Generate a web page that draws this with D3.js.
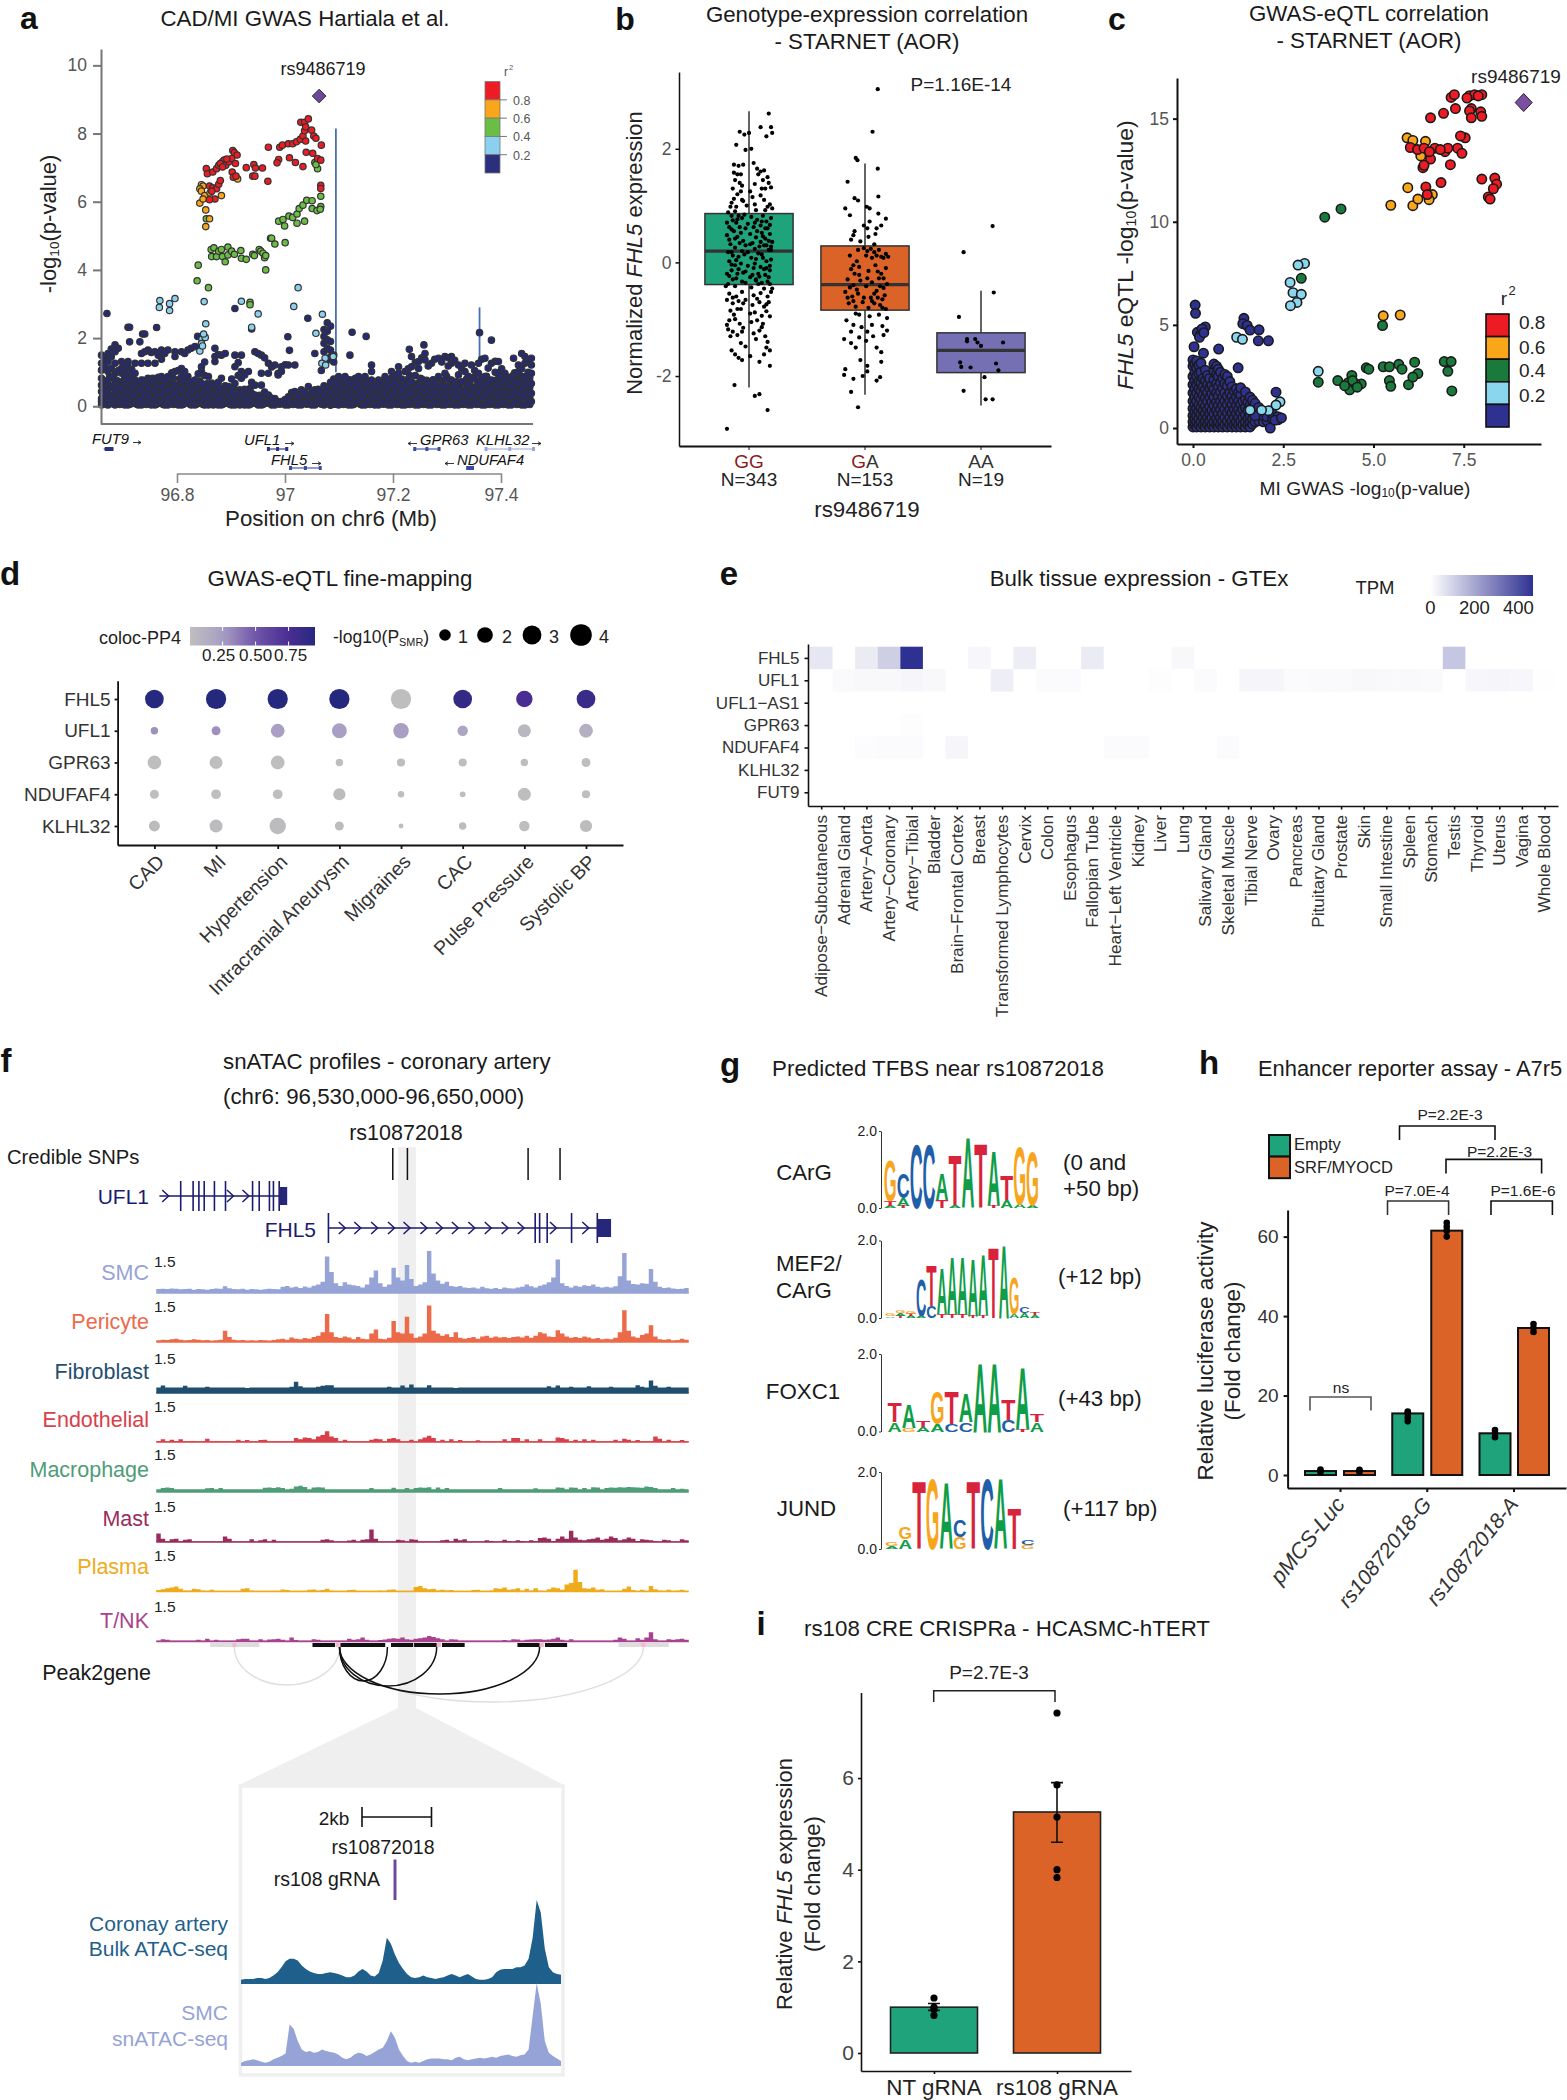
<!DOCTYPE html>
<html><head><meta charset="utf-8">
<script src="https://d3js.org/d3.v7.min.js"></script>
<style>html,body{margin:0;background:#fff}svg{display:block;font-family:"Liberation Sans",Arial,sans-serif}</style>
</head><body><svg id="c" width="1567" height="2100"></svg>
<script>
// ---------- panel a data ----------
const aRed=[[96.854,6.97],[96.856,6.82],[96.866,6.87],[96.873,6.97],[96.877,7.07],[96.884,7.17],[96.887,7.22],[96.88,7.12],[96.89,7.07],[96.896,7.17],[96.903,7.5],[96.906,7.44],[96.911,7.37],[96.901,7.27],[96.908,7.12],[96.902,6.87],[96.904,6.72],[96.909,6.75],[96.884,7.02],[96.892,7.25],[96.928,7],[96.942,7.09],[96.945,6.99],[96.958,6.99],[96.94,6.75],[96.944,6.75],[96.968,6.6],[96.969,7.6],[96.99,7.6],[96.995,7.66],[97.006,7.7],[97.014,7.7],[97.021,7.76],[97.028,7.83],[97.033,7.93],[97.036,8.08],[97.029,8.33],[97.036,8.33],[97.043,8.43],[97.038,8.2],[97.049,8.1],[97.053,7.93],[97.057,7.86],[97.038,7.78],[97.067,7.66],[97.039,7.45],[97.051,7.42],[97.06,7.27],[97.066,7.22],[96.988,7.24],[96.985,7.14],[97.008,7.29],[97.019,7.15],[97.033,7.03],[97.066,6.48],[97.066,6.39],[96.86,6.46],[96.866,6.41],[96.873,6.38],[96.877,6.51],[96.88,6.62],[96.864,6.31],[96.87,6.08],[96.86,6.06]];
const aOrange=[[96.845,6.5],[96.848,6.46],[96.842,6.38],[96.845,6.31],[96.851,6.18],[96.842,5.96],[96.848,6.08],[96.882,6.18],[96.861,6.26],[96.853,5.76],[96.86,5.5],[96.853,5.27],[96.912,6.67]];
const aGreen=[[96.854,5.5],[96.839,4.14],[96.837,3.68],[96.858,3.48],[96.863,4.6],[96.864,4.39],[96.868,4.65],[96.873,4.39],[96.877,4.55],[96.882,4.6],[96.884,4.39],[96.889,4.24],[96.894,4.67],[96.894,4.44],[96.901,4.55],[96.906,4.46],[96.918,4.57],[96.919,4.34],[96.928,4.31],[96.94,4.46],[96.943,4.42],[96.952,4.6],[96.955,4.55],[96.959,4.49],[96.962,4.36],[96.964,4.42],[96.964,4],[96.973,4.93],[96.975,4.93],[96.981,4.76],[97,4.8],[96.988,5.43],[96.996,5.48],[96.999,5.29],[97.007,5.58],[97.014,5.54],[97.022,5.64],[97.022,5.37],[97.026,5.8],[97.033,5.9],[97.036,5.43],[97.04,6.04],[97.05,6.03],[97.05,5.8],[97.059,5.74],[97.066,5.86],[97.066,6.16],[97.065,5.78],[97.055,7.15],[97.06,6.97],[97.057,7.09],[96.935,3.05],[96.935,2.98]];
const aBlue=[[96.768,3.1],[96.767,2.9],[96.786,3.01],[96.786,2.81],[96.796,3.16],[96.85,3.07],[96.919,3.08],[96.95,2.71],[96.938,2.32],[97.016,2.93],[97.024,3.48],[97.069,2.7],[96.853,2.42],[97.057,2.14],[96.846,1.97],[96.852,2.02],[96.849,2.12],[96.845,1.84],[96.842,1.62],[96.847,1.77],[97.074,1.41],[97.068,1.26],[97.075,1.21],[97.089,1.46]];
const aNavyTop=[[96.67,2.72],[96.709,2.32],[96.712,2.32],[96.712,1.89],[96.731,1.89],[96.736,2.12],[96.74,2.12],[96.762,2.31],[96.838,2.05],[96.907,2.87],[96.938,2.27],[97.005,2.04],[97.008,1.64],[97.042,2.58],[97.124,2.17],[97.15,2.05],[97.12,1.5],[97.23,1.67],[97.257,1.8],[97.36,2.16],[97.382,1.94],[97.423,1.41]];
const aNavyColumns=[[96.66,[.04,.14,.23,.43,.62,.82,1.06,1.26,1.5]],[96.666,[.1,.3,.5,.72,1.15,1.4]],[96.672,[.04,.18,.38,.77,1.02,1.31,1.55]],[96.678,[.1,.28,.55,1.12,1.45,1.68]],[96.685,[.04,.23,.48,.67,.97,1.26,1.6,1.8]],[96.691,[.12,.34,.62,1.05,1.7]],[96.697,[.09,.28,.53,.97,1.11,1.31]],[96.703,[.04,.16,.4,.85,1.2]],[96.709,[.04,.23,.43,.77,1.02,1.16,1.31]],[96.716,[.12,.3,.55,.9,1.08]],[96.722,[.09,.33,.62,.77,.97,1.26]],[96.728,[.04,.16,.45,.7]],[96.734,[.04,.23,.48,.77,1.26,1.55]],[96.74,[.12,.35,.62,1.6]],[96.746,[.09,.28,.53,.82,1.26,1.65]],[96.752,[.04,.16,.4,.72,1.58]],[96.759,[.04,.23,.43,.77,1.26,1.6]],[96.765,[.12,.32,.6,.85,1.5]],[96.771,[.09,.33,.58,.87,1.38,1.65]],[96.777,[.04,.18,.45,.75,1.55]],[96.783,[.04,.23,.48,.87,1.65]],[96.79,[.12,.3,.68,.98]],[96.796,[.14,.38,.62,1.02,1.6,1.46]],[96.802,[.04,.24,.55,1.05]],[96.808,[.04,.23,.48,.87,1.11,1.6]],[96.814,[.12,.35,.72,1.02,1.55]],[96.82,[.09,.33,.62,.87,1.65]],[96.826,[.04,.18,.48,.72,1.7]],[96.833,[.04,.23,.53,.77,1.75]],[96.839,[.12,.32,.62,.95]],[96.845,[.14,.38,.67,1.16,1.02,1.8]],[96.851,[.04,.24,.48,.9,1.3]],[96.858,[.04,.23,.53,.87]],[96.864,[.12,.36,.68]],[96.87,[.09,.33,.62,1.31,1.46,1.7]],[96.876,[.04,.2,.45,.7,1.52]],[96.882,[.04,.23,.53,.82,1.5]],[96.889,[.12,.36,.6,1.55]],[96.895,[.14,.33,.58]],[96.901,[.04,.2,.45,.8]],[96.907,[.04,.28,.67,1.16,1.5]],[96.913,[.12,.4,.9,1.28]],[96.919,[.09,.33,1.02,.82,1.5]],[96.925,[.04,.2,.5,.92]],[96.932,[.04,.23,.48,1.02]],[96.938,[.14,.38,.7]],[96.944,[.09,.33,.62,1.6]],[96.95,[.04,.2,1.55]],[96.956,[.04,.23,.62,.97,1.5]],[96.962,[.14,.42,1.42]],[96.969,[.14,.33,.97,1.26]],[96.975,[.04,.2,1.15]],[96.981,[.04,.23,1.21]],[96.987,[.14,.97,.92]],[96.993,[.14,1.02,1.16]],[97,[.04,.2,1.22]],[97.006,[.04,.28,1.21]],[97.012,[.14,.4]],[97.018,[.14,.43,1.21]],[97.024,[.04,.3]],[97.03,[.04,.48]],[97.036,[.14,.42]],[97.043,[.14,.58]],[97.049,[.04,.4]],[97.055,[.04,.48,1.55]],[97.061,[.14,.34,.5]],[97.067,[.06,.2,.42,1.05]],[97.072,[.04,.14,.32,.6,1.6,1.85,2.05,2.25]],[97.078,[.08,.22,.5,1.35,1.7,1.95,2.2,2.45]],[97.084,[.03,.18,.4,.7,1.45,1.65,1.9,2.35]],[97.09,[.06,.25,.55,.8,1.3,1.5]],[97.094,[.14,.4,.7]],[97.099,[.04,.23,.43,.62,.87]],[97.105,[.14,.32,.52,.8]],[97.111,[.09,.33,.53,.72,.87]],[97.117,[.04,.2,.42,.62]],[97.123,[.04,.23,.43,.67]],[97.13,[.14,.34,.55,.82]],[97.136,[.14,.38,.67,.87]],[97.142,[.04,.24,.5]],[97.148,[.04,.38,.62,.87]],[97.154,[.16,.42,.7]],[97.16,[.14,.33,.77,1.02,1.21]],[97.166,[.04,.24,.62]],[97.173,[.04,.23,.77]],[97.179,[.14,.42,.7]],[97.185,[.14,.38,.62,.87]],[97.191,[.04,.24,.5,.75]],[97.197,[.04,.28,.58,.82,1.02]],[97.203,[.14,.4,.7,.92]],[97.21,[.14,.62,.97,1.16]],[97.216,[.04,.24,.45,.8]],[97.222,[.04,.28,.62,1.02]],[97.228,[.14,.42,.8,1.1]],[97.234,[.14,.38,.72,1.16,1.46]],[97.241,[.04,.24,.55,.9,1.28]],[97.247,[.04,.23,.58,1.11,1.31]],[97.253,[.14,.42,.8,1.42]],[97.259,[.14,.38,.58,1.36,1.55]],[97.265,[.04,.24,.48,.7,1.18]],[97.271,[.04,.28,.53,1.26]],[97.277,[.14,.4,.68,1.38]],[97.284,[.14,.53,.87,1.41]],[97.29,[.04,.28,.62,1.3]],[97.296,[.04,.28,.58,.97,1.46]],[97.302,[.14,.42,.8,1.18,1.42]],[97.308,[.14,.43,.77,1.26,1.46]],[97.314,[.04,.26,.6,1.35]],[97.321,[.04,.28,.58,.92,1.21]],[97.327,[.14,.44,.72,1.1]],[97.333,[.14,.43,1.02,1.26]],[97.339,[.04,.28,.62,.88]],[97.345,[.04,.33,1.21]],[97.351,[.14,.5,.8,1.05]],[97.358,[.14,.43,.67,.97,1.26]],[97.364,[.04,.26,.55,.8,1.38]],[97.37,[.04,.33,.62,.87,1.41]],[97.376,[.14,.45,.72,1.12]],[97.382,[.14,.43,.77,1.26]],[97.389,[.04,.28,.58,1.0,1.32]],[97.395,[.04,.28,.62,.97,1.31]],[97.401,[.14,.42,.7,1.1]],[97.407,[.14,.38,.77,.97]],[97.413,[.04,.26,.55,.85]],[97.419,[.04,.28,.58,.82]],[97.425,[.14,.42,.7,.98]],[97.432,[.14,.38,.67,1.02,1.21]],[97.438,[.04,.26,.52,.85,1.1,1.55]],[97.444,[.04,.28,.62,.87,1.46,1.26]],[97.45,[.14,.42,.72,1.0,1.3]],[97.456,[.14,.38,.67,.97,1.21,1.41]]];
const aNavyFill=[[96.663,[.09,.33,.56,.74]],[96.669,[.05,.26,.44,.66]],[96.675,[.12,.3,.6,.86]],[96.682,[.07,.33,.58,.82]],[96.688,[.1,.28,.52,.76]],[96.694,[.05,.2,.44,.7]],[96.7,[.12,.36,.62,.74]],[96.706,[.08,.28,.55,.66]],[96.713,[.06,.36,.6,.78]],[96.719,[.1,.2,.44,.68]],[96.725,[.06,.26,.54]],[96.731,[.12,.34,.6,.66]],[96.737,[.08,.3,.52,.76]],[96.743,[.05,.22,.46,.72]],[96.749,[.12,.38,.64]],[96.755,[.08,.28,.56,.82]],[96.762,[.06,.34,.52,.68]],[96.768,[.1,.22,.46,.74]],[96.774,[.05,.27,.64,.8]],[96.78,[.12,.34,.58]],[96.786,[.08,.32,.55,.76]],[96.793,[.05,.2,.48,.82]],[96.799,[.11,.3,.62]],[96.805,[.07,.36,.66,.8]],[96.811,[.05,.18,.4,.58]],[96.817,[.12,.28,.55,.78]],[96.823,[.07,.22,.44,.7]],[96.83,[.11,.34,.6]],[96.836,[.06,.27,.47]],[96.842,[.09,.2,.45,.74]],[96.848,[.05,.3,.56]],[96.855,[.11,.33,.66]],[96.861,[.07,.24,.46]],[96.867,[.04,.2,.42]],[96.873,[.13,.26,.52]],[96.879,[.09,.33]],[96.885,[.06,.15,.42]],[96.892,[.09,.26,.48]],[96.898,[.05,.24]],[96.904,[.11,.33,.55]],[96.91,[.07,.2]],[96.916,[.04,.24,.48]],[96.922,[.12,.3]],[96.928,[.09,.35]],[96.935,[.05,.26,.52]],[96.941,[.09,.22]],[96.947,[.12,.3]],[96.953,[.08,.32]],[96.959,[.05,.2]],[96.965,[.09,.28]],[96.972,[.09,.26]],[96.978,[.12]],[96.984,[.09]],[96.99,[.06]],[96.997,[.1]],[97.003,[.12]],[97.009,[.08,.2]],[97.015,[.05,.28]],[97.021,[.1,.22]],[97.027,[.14]],[97.033,[.12,.3]],[97.04,[.06,.3]],[97.046,[.1,.26]],[97.052,[.13,.32]],[97.058,[.08,.3]],[97.064,[.1,.28]],[97.07,[.2,.46]],[97.076,[.13,.36]],[97.081,[.08,.3,.58]],[97.087,[.12,.3]],[97.092,[.06,.3]],[97.096,[.1,.33,.5]],[97.102,[.08,.28,.62]],[97.108,[.05,.22,.42,.7]],[97.114,[.12,.26,.46]],[97.12,[.08,.32,.56,.78]],[97.127,[.05,.2,.44,.7]],[97.133,[.09,.28,.6]],[97.139,[.06,.2,.46,.76]],[97.145,[.12,.3,.56]],[97.151,[.09,.26,.5,.74]],[97.157,[.05,.24,.56]],[97.163,[.09,.22,.46,.66]],[97.17,[.13,.34,.5]],[97.176,[.09,.3,.56]],[97.182,[.06,.26,.5,.76]],[97.188,[.09,.22,.5]],[97.194,[.13,.34,.62]],[97.2,[.09,.2,.45,.72]],[97.207,[.05,.28,.5,.8]],[97.213,[.09,.33,.56]],[97.219,[.13,.34,.68]],[97.225,[.09,.2,.5]],[97.231,[.05,.28,.58,.9]],[97.238,[.09,.3,.46]],[97.244,[.13,.34,.66]],[97.25,[.09,.3,.5,.82]],[97.256,[.05,.24,.62]],[97.262,[.09,.3,.76]],[97.268,[.13,.36,.62]],[97.274,[.09,.2,.44,.78]],[97.281,[.05,.3,.7]],[97.287,[.09,.34,.62]],[97.293,[.13,.44,.76]],[97.299,[.09,.2,.52,.88]],[97.305,[.05,.3,.64]],[97.311,[.09,.34,.7]],[97.318,[.13,.44,.72]],[97.324,[.09,.28,.56]],[97.33,[.05,.34,.7]],[97.336,[.09,.2,.5,.8]],[97.342,[.13,.4,.72]],[97.348,[.09,.26,.56,.84]],[97.355,[.05,.32,.6]],[97.361,[.09,.34,.74]],[97.367,[.13,.44,.7]],[97.373,[.09,.28,.55,.88]],[97.379,[.05,.32,.6]],[97.386,[.09,.36,.72]],[97.392,[.13,.44,.78]],[97.398,[.09,.34,.55,.86]],[97.404,[.05,.28,.62]],[97.41,[.09,.3,.48,.7]],[97.416,[.13,.4,.66]],[97.422,[.09,.34,.52,.9]],[97.429,[.05,.26,.5,.78]],[97.435,[.09,.3,.6,.9]],[97.441,[.13,.44,.74]],[97.447,[.09,.3,.52,.8]],[97.453,[.05,.26,.55,.84]]];
const aGenes=[["FUT9",96.664,96.682,1,0,"#2b2f7e"],["UFL1",96.969,97.003,1,0,"#2b2f7e"],["FHL5",97.01,97.065,1,1,"#3b4a9e"],["GPR63",97.24,97.285,-1,0,"#3b4a9e"],["KLHL32",97.372,97.46,1,0,"#9aa3d6"],["NDUFAF4",97.338,97.347,-1,1,"#3b4a9e"]];
const aLeadSnp=[97.063,9.1];
const aRecomb=[[97.094,8.15,1.0],[97.36,2.9,1.3]];
const ldBreaks=["0.8","0.6","0.4","0.2"];
// ---------- panel b data ----------
const bCats=["GG","GA","AA"];
const bCounts=["N=343","N=153","N=19"];
const bBoxes=[{lo:-2.2,q1:-.39,med:.2,q3:.86,hi:2.66},{lo:-2.33,q1:-.84,med:-.39,q3:.29,hi:1.74},{lo:-2.52,q1:-1.94,med:-1.55,q3:-1.24,hi:-.5}];
const bColors=["#1fa37a","#dc6327","#7570b3"];
const bGG=[.17,2.62,.1,2.38,.19,2.38,.2,2.28,.15,2.22,-.08,2.3,0,2.28,-.04,2.25,-.03,1.98,-.11,2.07,.02,2,-.13,1.58,-.1,1.55,-.05,1.72,-.09,1.7,.04,1.75,.07,1.65,.1,1.6,.08,1.55,-.12,1.45,-.08,1.4,-.14,1.3,-.06,1.35,.12,1.45,.16,1.5,.17,1.4,.14,1.3,.19,1.32,.05,1.38,-.15,1.05,-.13,1.12,-.1,1.2,-.07,1.25,-.05,1.08,-.02,1,.03,1.15,.1,1.18,.13,1.1,.18,1.02,.2,.95,.16,.98,.06,.92,-.16,.98,-.12,.9,-.18,.88,-.09,.82,-.14,.74,-.11,.7,-.17,.62,-.06,.78,.02,.8,.07,.75,.12,.82,.15,.72,.19,.78,.1,.65,.16,.6,.04,.62,-.03,.6,-.13,.55,-.19,.48,-.1,.45,-.07,.52,.01,.5,.06,.44,.11,.52,.18,.5,.14,.42,.2,.36,-.16,.32,-.12,.26,-.18,.18,-.08,.34,-.03,.3,.03,.34,.09,.28,.13,.3,.17,.22,.08,.16,-.14,.12,-.09,.1,-.04,.14,.02,.08,.12,.08,.19,.05,-.17,.02,-.12,-.05,-.07,-.02,-.01,-.06,.05,-.02,.1,-.08,.15,-.1,.18,-.14,-.15,-.14,-.19,-.2,-.1,-.2,-.05,-.18,.03,-.22,.09,-.25,.14,-.22,.06,-.32,-.14,-.3,-.18,-.38,-.2,-.42,-.12,-.42,-.03,-.36,.02,-.44,.08,-.38,.13,-.46,.18,-.38,.2,-.46,-.17,-.55,-.11,-.6,-.06,-.52,.04,-.58,.1,-.54,.16,-.6,.19,-.52,-.19,-.66,-.14,-.72,-.09,-.68,-.03,-.66,.03,-.75,.09,-.7,.13,-.78,.17,-.7,-.16,-.85,-.13,-.92,-.07,-.82,.05,-.88,.11,-.94,.15,-.86,-.12,-1,-.17,-1.02,-.08,-1.08,.02,-1.05,.07,-1.02,.12,-1.08,-.18,-1.18,-.14,-1.22,-.1,-1.28,-.06,-1.22,.04,-1.25,.09,-1.2,.14,-1.3,.16,-1.4,.15,-1.5,-.07,-1.42,-.03,-1.48,-.12,-1.62,-.09,-1.68,-.06,-1.72,.09,-1.75,.18,-1.82,-.125,-2.16,.09,-2.32,.05,-2.35,.16,-2.6,-.19,-2.93,
 -.15,.82,-.1,.76,-.04,.84,.05,.7,.11,.72,.14,.6,.18,.66,-.15,.58,-.08,.62,-.01,.68,.07,.55,.12,.46,.17,.38,-.17,.4,-.12,.42,-.05,.38,.01,.32,.05,.24,.1,.36,.15,.3,.19,.22,-.15,.18,-.11,.04,-.06,.2,-.01,.18,.06,.06,.11,.14,.15,.02,.18,-.06,-.15,-.04,-.09,-.12,-.03,-.16,.04,-.1,.08,-.2,.13,-.12,.17,-.26,-.17,-.24,-.11,-.28,-.06,-.34,.01,-.26,.06,-.3,.11,-.36,.16,-.34,.19,.28,-.19,.7,-.07,1.55,.13,1.62,-.13,1.72,.11,1.3,-.06,1.1,.01,1.25,.05,1.02,-.11,.98,.14,.92,-.14,-.62,-.05,-.72,.07,-.64,.15,-.74,-.1,-.82,.01,-.9,.18,-.95,-.19,-1.1,-.05,-1.15,.11,-1.14,-.16,-1.3,.06,-1.35,.13,-1.62,-.15,-1.55,.01,-1.65,.18,-1.55];
const bGA=[.11,3.05,.065,2.3,-.08,1.84,-.065,1.8,.11,1.65,-.15,1.42,-.09,1.13,-.06,1.09,.115,1.16,-.17,.95,.015,.98,.04,.95,-.13,.83,.115,.86,.18,.77,.14,.65,-.01,.65,.02,.6,-.09,.55,.1,.6,-.12,.4,-.04,.37,.03,.45,.08,.32,-.01,.25,.02,.2,.05,.24,.08,.18,.1,.12,.12,.22,.14,.1,.16,.08,.18,.15,.2,.1,-.13,.12,-.07,.02,-.12,-.12,-.09,-.2,-.05,-.08,.03,-.15,.09,-.05,.14,-.2,.18,-.1,-.15,-.3,-.1,-.4,-.04,-.32,.01,-.42,.06,-.35,.12,-.28,.16,-.45,.19,-.38,-.17,-.52,-.11,-.6,-.06,-.55,.05,-.62,.1,-.5,.15,-.65,-.14,-.72,-.08,-.78,-.02,-.7,.03,-.8,.08,-.72,.13,-.75,.18,-.82,-.05,-.92,.04,-.95,.12,-.92,.19,-.98,-.16,-1.02,-.1,-1.1,-.03,-1.14,.02,-1.22,.06,-1.1,.15,-1.12,.19,-1.2,-.18,-1.35,-.12,-1.42,-.08,-1.5,.01,-1.38,.1,-1.5,.14,-1.58,-.04,-1.72,-.17,-1.88,-.18,-1.98,.02,-1.82,-.1,-2.05,-.02,-2,.1,-2.08,.02,-1.92,.14,-1.75,-.12,-2.28,-.06,-2.55,.13,-2.02,
 -.1,.48,.04,.72,.09,.5,-.06,.22,.06,.08,.01,.12,-.1,-.05,-.05,-.22,.02,-.28,.11,-.16,.16,-.28,-.13,-.44,-.07,-.48,.08,-.55,.13,-.42,.17,-.58,-.15,-.62,-.1,-.68,-.01,-.62,.06,-.68,.11,-.62,.15,-.8,-.08,-.9,.16,-1.28,-.12,-1.22,.07,-1.3,-.05,-1.32];
const bAA=[.1,.64,-.15,.18,.11,-.53,-.19,-.96,-.12,-1.35,-.12,-1.39,-.05,-1.35,-.03,-1.41,0,-1.47,.19,-1.41,-.18,-1.76,-.17,-1.84,-.09,-1.85,.13,-1.78,.15,-1.9,.03,-2.02,-.15,-2.26,.04,-2.41,.1,-2.41];
// ---------- panel c data ----------
const cRed=[[6.58,15.04],[6.94,15.26],[7.27,15.49],[7.15,16.03],[7.24,16.16],[7.66,16.11],[7.8,16.16],[8,16.16],[7.59,16],[7.71,15.49],[7.66,15.37],[7.97,15.33],[8,15.11],[7.71,15.04],[7.9,16.1],[7.54,14.07],[7.41,14.16],[6.02,13.6],[6.22,13.5],[6.4,13.57],[6.7,13.57],[6.98,13.4],[7.06,13.57],[7.33,13.57],[7.45,13.32],[7.13,12.77],[6.58,13.04],[6.37,12.62],[6.4,12.74],[6.55,13.4],[6.85,13.5],[8,12.07],[8.36,12.12],[8.41,11.82],[8.32,11.6],[8.18,11.2],[8.23,11.1],[6.87,11.9],[6.45,11.69],[6.49,11.32]];
const cOrange=[[5.93,14.07],[6.09,13.94],[6.44,13.9],[6.31,13.19],[5.95,11.65],[5.48,10.8],[6.09,10.78],[6.23,11.1],[6.63,11.32],[6.54,11.07],[5.27,5.44],[5.74,5.48]];
const cGreen=[[3.65,10.22],[4.1,10.62],[3,7.26],[5.25,4.97],[3.47,2.22],[4.01,2.3],[4.3,2.2],[4.4,2.55],[4.34,1.85],[4.66,2.14],[4.5,2.14],[4.8,2.92],[4.87,2.85],[5.27,2.97],[5.44,2.97],[5.7,3.09],[5.79,2.85],[5.44,2.3],[5.48,2.02],[5.97,2.1],[6.14,3.19],[6.23,2.64],[6.09,2.47],[6.96,3.22],[7.15,3.22],[7.06,2.75],[7.17,1.8],[4.42,2.3],[4.55,1.98],[4.2,2.05]];
const cBlue=[[3.47,2.75],[3.09,7.98],[2.91,7.9],[2.69,7.06],[2.77,6.56],[3,6.48],[2.88,6.09],[2.7,5.93],[1.21,4.4],[1.37,4.3],[2.41,1.27],[2.3,1.11],[2.09,.84],[1.9,.87],[1.58,.87]];
const cNavyTop=[[.06,5.96],[.07,5.56],[.34,4.9],[.12,4.64],[.2,4.5],[.25,4.8],[.18,4.4],[.3,4.62],[.71,3.83],[.03,3.94],[.29,3.63],[1.25,2.92],[1.41,5.32],[1.38,5.06],[1.5,4.97],[1.58,4.75],[1.83,4.76],[1.81,4.23],[2.09,4.23],[2.3,1.74],[2.14,0],[1.72,.6],[2.27,.38],[2.45,.49]];
const cNavyColumns=[[0,[.05,.3,.6,.95,1.3,1.7,2.1,2.5,3,3.3]],[.05,[.15,.45,.8,1.15,1.5,1.9,2.3,2.7,3.1]],[.1,[.05,.3,.6,.95,1.3,1.7,2.1,2.5,2.9,3.25]],[.16,[.15,.45,.8,1.1,1.5,1.9,2.25,2.65,3.05]],[.22,[.05,.3,.65,1,1.4,1.8,2.2,2.7,3.15]],[.28,[.15,.5,.85,1.2,1.6,2,2.4]],[.34,[.05,.35,.7,1.05,1.45,1.85,2.3,2.8]],[.4,[.15,.5,.9,1.3,1.7,2.1,2.55]],[.46,[.05,.35,.7,1.05,1.5,1.95,2.4]],[.52,[.15,.5,.85,1.25,1.65,2.05]],[.58,[.05,.3,.7,1.1,1.5,1.9,2.35,2.75,3.1]],[.65,[.15,.45,.85,1.25,1.7,2.15,2.6,3]],[.7,[.05,.3,.7,1.1,1.55,2,2.5,2.85]],[.76,[.15,.5,.9,1.3,1.75,2.2,2.7]],[.82,[.05,.35,.7,1.1,1.5,1.95,2.4]],[.88,[.15,.5,.9,1.3,1.7,2.15,2.6]],[.95,[.05,.35,.75,1.15,1.55,2.05,2.5]],[1.02,[.15,.5,.9,1.3,1.7,2.25]],[1.08,[.05,.35,.75,1.15,1.55,2]],[1.14,[.15,.5,.9,1.35,1.8]],[1.2,[.05,.3,.7,1.1,1.5,1.9]],[1.26,[.15,.5,.9,1.3,1.7]],[1.32,[.05,.35,.75,1.15,1.6,1.95]],[1.38,[.15,.5,.9,1.3]],[1.45,[.05,.3,.65,1,1.4,1.75]],[1.52,[.15,.45,.85,1.25]],[1.58,[.05,.3,.6,1.1,1.5]],[1.65,[.2,.45,.75,1.05,1.35]],[1.72,[.3,.85,1.2]],[1.82,[.35,.7,1]],[1.95,[.3,.6]],[2.05,[.35,.55]],[2.2,[.45,.7]],[2.35,[.4,.55]]];
const cLead=[9.16,15.78];
// ---------- panel d data ----------
const dTraits=["CAD","MI","Hypertension","Intracranial Aneurysm","Migraines","CAC","Pulse Pressure","Systolic BP"];
const dGenes=["FHL5","UFL1","GPR63","NDUFAF4","KLHL32"];
const dSize=[[3.5,4.1,4.1,4.1,4.1,3.5,2.7,3.5],[.55,.8,1.9,2.2,2.4,1.1,1.7,1.9],[1.9,1.7,1.9,.55,.67,.67,.55,.8],[.8,.95,.95,1.5,.43,.33,1.7,.67],[1.2,1.7,2.7,.8,.24,.55,1.1,1.5]];
const dPP4=[[.95,.97,.97,.97,0,.88,.75,.85],[.3,.3,.25,.25,.25,.2,.06,.12],[0,0,0,0,0,0,0,0],[0,0,0,.02,0,0,0,0],[.02,.02,.02,.02,0,.02,0,.02]];
// ---------- panel e data ----------
const eGenes=["FHL5","UFL1","UFL1−AS1","GPR63","NDUFAF4","KLHL32","FUT9"];
const eTissues=["Adipose−Subcutaneous","Adrenal Gland","Artery−Aorta","Artery−Coronary","Artery−Tibial","Bladder","Brain−Frontal Cortex","Breast","Transformed Lymphocytes","Cervix","Colon","Esophagus","Fallopian Tube","Heart−Left Ventricle","Kidney","Liver","Lung","Salivary Gland","Skeletal Muscle","Tibial Nerve","Ovary","Pancreas","Pituitary Gland","Prostate","Skin","Small Intestine","Spleen","Stomach","Testis","Thyroid","Uterus","Vagina","Whole Blood"];
const eTPM={FHL5:[55,0,45,110,466,0,0,18,0,40,0,0,45,0,0,0,15,0,0,0,0,0,0,0,0,0,0,0,130,0,0,0,0],
UFL1:[0,12,15,15,22,15,0,0,38,0,10,10,0,0,0,4,0,10,0,22,22,10,12,12,15,14,14,12,0,18,20,18,3],
"UFL1−AS1":new Array(33).fill(0),
GPR63:[0,0,0,0,4,0,0,0,0,0,0,0,0,0,0,0,0,0,0,0,0,0,0,0,0,0,0,0,0,0,0,0,0],
NDUFAF4:[0,0,6,8,10,0,22,0,0,0,0,0,0,8,10,0,0,0,10,0,0,0,0,0,0,0,0,0,0,0,0,0,0],
KLHL32:new Array(33).fill(0),FUT9:new Array(33).fill(0)};
// ---------- panel f data ----------
const fSnps=[53.3,56.6,83.8,91];
const fUfl1Exons=[5.5,8.3,9.6,10.8,13.1,15.6,21.7,23.2,25.5,26.4,27.7];
const fUfl1Chev=[2,16.6,20.1];
const fFhl5Exons=[38.8,85.4,86.4,88.1,93.6,99.4];
const fFhl5Chev=[41.8,45.3,49.1,52.9,56.4,60.2,63.7,67.3,71,74.7,78.5,82.1,89.4,96.7];
const trSMC=[.14,.15,.14,.16,.15,.13,.14,.15,.12,.14,.13,.12,.14,.16,.15,.24,.17,.14,.13,.15,.12,.14,.13,.12,.13,.15,.14,.13,.22,.25,.2,.22,.18,.23,.2,.26,.3,.4,1.3,.75,.35,.25,.38,.3,.28,.25,.2,.3,.55,.8,.35,.22,.3,.9,.55,.45,1,.5,.25,.3,.38,1.5,.7,.45,.33,.4,.25,.22,.25,.2,.18,.2,.16,.22,.17,.15,.18,.14,.2,.17,.16,.2,.22,.3,.24,.2,.26,.3,.38,.55,1.2,.35,.25,.2,.26,.22,.28,.25,.3,.22,.2,.22,.2,.24,.6,1.43,.45,.32,.3,.35,.33,.86,.4,.22,.18,.2,.16,.14,.15,.18,.16];
const trPericyte=[.06,.08,.07,.1,.12,.08,.06,.07,.1,.08,.06,.07,.05,.06,.08,.4,.18,.08,.06,.07,.05,.06,.05,.07,.06,.05,.07,.1,.12,.08,.16,.12,.1,.14,.12,.18,.22,.35,1,.35,.18,.14,.2,.16,.1,.18,.12,.1,.3,.45,.12,.1,.15,.75,.35,.3,.9,.3,.15,.2,.3,1.3,.4,.3,.22,.28,.18,.35,.15,.12,.14,.18,.12,.2,.22,.15,.2,.16,.18,.14,.18,.2,.16,.22,.15,.22,.35,.3,.2,.18,.42,.3,.2,.15,.18,.14,.2,.16,.12,.14,.1,.12,.1,.15,.35,1.13,.4,.2,.15,.25,.3,.6,.2,.1,.08,.1,.06,.07,.12,.08,.07];
const trFibro=[.2,.27,.2,.2,.2,.2,.26,.2,.2,.2,.2,.22,.2,.2,.2,.2,.2,.2,.2,.2,.18,.2,.2,.2,.2,.2,.2,.2,.2,.2,.22,.4,.24,.2,.2,.2,.22,.26,.28,.28,.2,.2,.2,.2,.2,.2,.2,.2,.2,.2,.2,.2,.22,.2,.2,.27,.2,.3,.2,.2,.2,.28,.2,.2,.2,.2,.2,.18,.2,.2,.2,.2,.2,.2,.2,.2,.2,.2,.2,.2,.2,.2,.2,.2,.2,.2,.2,.2,.24,.2,.27,.2,.2,.22,.2,.2,.2,.24,.2,.2,.2,.2,.22,.2,.2,.2,.2,.2,.28,.22,.2,.45,.26,.2,.2,.22,.2,.2,.2,.2,.2];
const trEndo=[.04,.1,.03,.08,.04,.1,.03,.03,.04,.03,.03,.12,.03,.04,.03,.03,.03,.03,.08,.03,.07,.03,.03,.07,.08,.03,.03,.03,.03,.03,.03,.14,.1,.16,.14,.1,.2,.25,.38,.2,.14,.03,.08,.03,.03,.03,.03,.03,.08,.12,.1,.03,.12,.14,.1,.03,.03,.08,.03,.1,.16,.22,.14,.03,.08,.03,.1,.03,.07,.03,.03,.03,.06,.03,.03,.03,.03,.03,.1,.03,.14,.14,.03,.1,.03,.03,.1,.03,.03,.03,.16,.14,.1,.03,.08,.03,.1,.03,.08,.03,.03,.03,.03,.08,.03,.12,.08,.03,.07,.03,.03,.03,.2,.12,.03,.08,.03,.03,.07,.03,.03];
const trMacro=[.1,.14,.16,.14,.1,.1,.1,.1,.1,.1,.1,.13,.14,.1,.14,.1,.1,.1,.1,.1,.1,.1,.1,.1,.15,.16,.14,.17,.14,.1,.12,.2,.22,.18,.1,.16,.17,.16,.1,.1,.1,.1,.1,.1,.1,.1,.1,.1,.14,.1,.1,.1,.1,.15,.1,.1,.14,.1,.14,.16,.15,.17,.1,.16,.1,.14,.1,.1,.1,.1,.1,.1,.1,.1,.1,.1,.1,.14,.1,.1,.1,.1,.1,.1,.1,.13,.1,.1,.1,.1,.16,.15,.1,.16,.15,.1,.14,.1,.17,.16,.1,.14,.16,.15,.17,.16,.18,.17,.16,.15,.2,.18,.14,.1,.1,.1,.14,.1,.12,.1,.1];
const trMast=[.3,.12,.03,.1,.12,.03,.08,.1,.02,.02,.02,.02,.02,.02,.02,.2,.12,.02,.02,.02,.02,.1,.02,.06,.1,.02,.08,.02,.02,.02,.02,.02,.02,.02,.02,.02,.02,.08,.1,.06,.02,.02,.02,.05,.08,.02,.08,.1,.45,.12,.02,.02,.02,.02,.08,.06,.02,.1,.08,.02,.02,.02,.02,.02,.06,.08,.02,.12,.06,.1,.02,.02,.02,.02,.06,.04,.02,.02,.08,.04,.02,.06,.04,.02,.06,.04,.14,.16,.12,.04,.12,.2,.12,.4,.16,.08,.06,.1,.12,.16,.08,.12,.2,.14,.06,.1,.16,.12,.04,.1,.08,.06,.04,.02,.08,.06,.02,.02,.1,.06,.03];
const trPlasma=[.05,.08,.12,.14,.18,.1,.04,.04,.1,.08,.04,.03,.06,.03,.03,.03,.03,.03,.03,.1,.12,.04,.03,.03,.03,.03,.03,.03,.07,.05,.03,.03,.03,.03,.06,.07,.04,.05,.1,.04,.03,.03,.03,.05,.06,.03,.03,.03,.03,.03,.04,.03,.06,.07,.03,.03,.03,.03,.16,.2,.12,.08,.1,.04,.06,.04,.05,.03,.03,.03,.03,.05,.06,.03,.03,.04,.12,.1,.14,.06,.08,.12,.04,.1,.04,.12,.04,.03,.08,.14,.12,.06,.25,.3,.78,.34,.12,.1,.14,.06,.08,.03,.03,.03,.03,.1,.18,.05,.03,.06,.03,.2,.08,.04,.03,.06,.03,.04,.06,.03,.03];
const trTNK=[.04,.08,.06,.04,.04,.04,.04,.04,.04,.06,.04,.1,.04,.06,.04,.04,.04,.04,.08,.1,.1,.04,.04,.08,.04,.07,.08,.1,.06,.04,.14,.05,.04,.04,.04,.08,.06,.04,.04,.04,.04,.04,.04,.1,.06,.08,.14,.06,.04,.04,.05,.07,.1,.12,.1,.14,.08,.06,.1,.12,.14,.2,.16,.12,.08,.04,.08,.07,.04,.04,.04,.04,.04,.04,.04,.04,.04,.04,.05,.04,.08,.07,.04,.06,.07,.08,.08,.06,.07,.1,.14,.06,.04,.08,.04,.04,.04,.04,.04,.04,.04,.04,.04,.06,.14,.1,.04,.04,.12,.06,.14,.33,.08,.04,.04,.08,.06,.08,.1,.06,.04];
const fTrackNames=["SMC","Pericyte","Fibroblast","Endothelial","Macrophage","Mast","Plasma","T/NK"];
const fTrackColors=["#96a3d6","#ec6a4a","#1f4e6f","#d9404a","#4f9c78","#9a2c5c","#eeab1b","#a8448f"];
const fTrackValues=[trSMC,trPericyte,trFibro,trEndo,trMacro,trMast,trPlasma,trTNK];
const fBlackPeaks=[[35.2,40.3],[41.5,51.6],[52.9,57.9],[58.1,63.2],[64.4,69.5],[81.4,86.4],[87.6,92.6]];
const fGrayPeaks=[[12.1,23.2],[104.2,115.5]];
const fPinkSpots=[17.6,40.9,63.7,86.9,109.8];
const fLinks=[[17.6,41.3,"#dedede",38],[41.3,109.8,"#dedede",55],[41.3,52.1,"#111",34],[41.3,63.2,"#111",39],[41.3,86.4,"#111",47]];
const zoomBulk=[.05,.06,.06,.06,.07,.07,.06,.07,.1,.14,.2,.27,.3,.3,.28,.22,.18,.15,.13,.12,.12,.13,.14,.13,.12,.1,.08,.08,.1,.15,.18,.15,.1,.09,.13,.28,.55,.48,.35,.25,.18,.12,.08,.07,.08,.1,.08,.07,.06,.07,.08,.1,.12,.1,.08,.1,.12,.09,.06,.05,.05,.06,.08,.14,.17,.18,.18,.18,.2,.2,.22,.3,.55,1,.85,.42,.2,.14,.12,.11];
const zoomSMC=[.04,.06,.07,.08,.07,.05,.04,.05,.08,.1,.12,.15,.5,.45,.3,.2,.17,.18,.16,.17,.2,.18,.17,.16,.14,.1,.08,.1,.14,.16,.15,.12,.14,.17,.2,.22,.3,.42,.34,.2,.12,.06,.04,.05,.04,.06,.08,.09,.09,.09,.08,.08,.07,.1,.11,.08,.07,.08,.09,.1,.09,.1,.11,.1,.12,.13,.14,.12,.11,.13,.14,.2,.6,1,.75,.3,.16,.12,.09,.06];
// ---------- panel g data ----------
const gLogos=[
 {span:[883.8,1039],top:1131,base:1208,pos:["A.05 T.12 G1.05","T.05 A.2 C.65","C1.7","C1.7","T.2 A.7","A.08 T1.3","A1.85","T1.7","T.05 A1.45","A.2 T.65","A.1 G1.5","A.08 G1.4"]},
 {span:[885,1040],top:1240.5,base:1318,pos:["A.04 G.06","T.06 A.06 G.05","A.06 T.05 G.08","A.05 C.95","C.3 T1.05","T.1 A1.2","T.1 A1.5","T.1 A1.5","T.05 A1.5","T.08 A1.6","T1.85","A1.9","A.1 G.95","A.12 C.15","A.08 T.05"]},
 {span:[887.6,1044],top:1354,base:1431.5,pos:["A.25 T.5","G.1 A.6","A.12 T.18","A.2 G.85","C.2 T.85","C.25 A.75","A1.8","A1.8","C.3 T.55","T.05 A1.65","A.25 T.2"]},
 {span:[885,1034.6],top:1472,base:1549,pos:["A.08 G.1","A.25 G.3","T1.8","G1.85","A1.75","G.3 C.45","T1.8","C1.85","A1.85","T1.05","G.1 C.12"]}];
const gNames=["CArG","MEF2/","FOXC1","JUND"];
// ---------- panel h data ----------
const hGroups=["pMCS-Luc","rs10872018-G","rs10872018-A"];
const hSeries=["Empty","SRF/MYOCD"];
const hMeans=[[1,1],[15.5,61.5],[10.5,37]];
const hPoints=[[[1,1.4,.8],[1,1.3,.8]],[[13.5,14.5,15.5,16],[60,61.5,62.5,63.5]],[[9.5,10.5,11.3],[36,37,38]]];
// ---------- panel i data ----------
const iCats=["NT gRNA","rs108 gRNA"];
const iMeans=[1,5.26];
const iErr=[[.93,1.08],[4.6,5.9]];
const iPoints=[[1.2,1,.95,.82],[7.42,5.85,5.15,4,3.83]];

// ---------- helpers ----------
const svg=d3.select("#c");
const GREEN="#1fa37a",ORANGE="#dc6327",TITLE=22.3;
function T(g,x,y,s,o={}){
  const t=g.append("text").attr("x",x).attr("y",y).attr("text-anchor",o.a||"middle").attr("dominant-baseline","central")
    .attr("font-size",o.s||20).attr("fill",o.c||"#1a1a1a");
  if(o.b)t.attr("font-weight","bold");
  if(o.i)t.attr("font-style","italic");
  if(o.r!==undefined)t.attr("transform",`rotate(${o.r} ${x} ${y})`);
  if(Array.isArray(s)){let sub=false;const fs=o.s||20;
    s.forEach(([str,k])=>{const sp=t.append("tspan").text(str);
      if(k==="i")sp.attr("font-style","italic");
      if(k==="s"){sp.attr("font-size",fs*.62).attr("dy",fs*.28);sub=true;}
      else if(sub){sp.attr("dy",-fs*.28);sub=false;}});
  } else t.text(s);
  return t;
}
function styleAxis(g,o){
  g.selectAll(".domain").attr("stroke",o.c||"#000").attr("stroke-width",o.w||1.5);
  g.selectAll(".tick line").attr("stroke",o.c||"#000").attr("stroke-width",o.tw||o.w||1.5);
  g.selectAll(".tick text").attr("fill",o.t||"#444").attr("font-size",o.s||17).attr("font-family","Liberation Sans");
}
function dots(g,data,x,y,r,fill,stroke,sw){
  g.append("g").selectAll("circle").data(data).join("circle").attr("cx",d=>x(d[0])).attr("cy",d=>y(d[1])).attr("r",r)
   .attr("fill",fill).attr("stroke",stroke).attr("stroke-width",sw);
}
const flat=cols=>cols.flatMap(([x,ys])=>ys.map(y=>[x,y]));
[["a",29,18],["b",625,18.5],["c",1117,18.5]].forEach(([s,x,y])=>T(svg,x,y,s,{s:32,b:1,c:"#111"}));
[["d",10,573],["e",729,573],["f",6,1060],["g",730,1064],["h",1209,1062],["i",761,1623]].forEach(([s,x,y])=>T(svg,x,y,s,{s:33,b:1,c:"#111"}));

// ---------- PANEL A ----------
(function(){
 const g=svg.append("g");
 const x=d3.scaleLinear([96.659,97.459],[101,533]), y=d3.scaleLinear([-.52,10.48],[424,49]);
 T(g,305,18,"CAD/MI GWAS Hartiala et al.",{s:TITLE});
 g.selectAll("line.rec").data(aRecomb).join("line").attr("x1",d=>x(d[0])).attr("x2",d=>x(d[0])).attr("y1",d=>y(d[1])).attr("y2",d=>y(d[2])).attr("stroke","#4a6db5").attr("stroke-width",1.8);
 const R=3.2,S="#333",W=1.2;
 dots(g,flat(aNavyFill),x,y,R,"#252a72",S,W);
 dots(g,flat(aNavyColumns).concat(aNavyTop),x,y,R,"#252a72",S,W);
 dots(g,aBlue,x,y,R,"#8bd0ee",S,W);
 dots(g,aGreen,x,y,R,"#6abd45",S,W);
 dots(g,aOrange,x,y,R,"#f9a61a",S,W);
 dots(g,aRed,x,y,R,"#ed1c24",S,W);
 g.append("path").attr("d",d3.symbol(d3.symbolDiamond2||d3.symbolDiamond,120)).attr("transform",`translate(${x(aLeadSnp[0])},${y(aLeadSnp[1])}) `).attr("fill","#6b4a9e").attr("stroke","#333");
 T(g,323,69,"rs9486719",{s:18});
 const ax=g.append("g").attr("transform","translate(101,0)").call(d3.axisLeft(y).tickValues([0,2,4,6,8,10]).tickSize(8).tickPadding(6).tickSizeOuter(0));
 styleAxis(ax,{c:"#777",w:2,t:"#555",s:17.5});
 g.append("line").attr("x1",101).attr("x2",533).attr("y1",y.range()[0]).attr("y2",y.range()[0]).attr("stroke","#777").attr("stroke-width",2);
 T(g,48,224,[["-log"],["10","s"],["(p-value)"]],{s:22,r:-90,c:"#222"});
 const gx=d3.scaleLinear([96.8,97.4],[177,501]);
 const bx=g.append("g").attr("transform","translate(0,473.5)").call(d3.axisBottom(gx).tickValues([96.8,97,97.2,97.4]).tickFormat(d=>String(+d.toFixed(1))).tickSize(9.5).tickPadding(6).tickSizeOuter(0));
 styleAxis(bx,{c:"#888",w:1.6,t:"#555",s:17.5});
 T(g,331,518,"Position on chr6 (Mb)",{s:TITLE,c:"#222"});
 aGenes.forEach(([n,a,b,dir,row,col])=>{
   const yb=449+row*19;
   const xa=Math.max(x(a),101);
   g.append("line").attr("x1",xa).attr("x2",x(b)).attr("y1",yb).attr("y2",yb).attr("stroke",col).attr("stroke-width",1.1);
   if(n==="FUT9")g.append("rect").attr("x",xa+1).attr("y",yb-2).attr("width",x(b)-xa-1).attr("height",4).attr("fill",col);
   else [a,(a+b)/2,b].forEach(p=>g.append("rect").attr("x",x(p)-1.5).attr("y",yb-2).attr("width",3).attr("height",4).attr("fill",col));
 });
 const geneLabels=[["FUT9",92,439,133,141],["UFL1",244,440,285,294],["FHL5",271,460,312,321],["GPR63",420,440,417,408],["KLHL32",476,440,532,541],["NDUFAF4",457,460,454,445]];
 geneLabels.forEach(([s,lx,ly,a1,a2])=>{
   T(g,lx,ly,s,{s:14.8,i:1,a:"start",c:"#111"});
   const ay=ly+3.5,d=a2>a1?1:-1;
   g.append("path").attr("d",`M${a1} ${ay}H${a2}M${a2-3*d} ${ay-1.8}L${a2} ${ay}L${a2-3*d} ${ay+1.8}`).attr("stroke","#222").attr("fill","none").attr("stroke-width",.9);
 });
 const ly=d3.scaleBand().domain(["r","o","g","b","n"]).range([81.6,173]);
 const cols={r:"#ed1c24",o:"#f9a61a",g:"#6abd45",b:"#8bd0ee",n:"#2b2f7e"};
 ly.domain().forEach(k=>g.append("rect").attr("x",485).attr("width",15).attr("y",ly(k)).attr("height",ly.bandwidth()).attr("fill",cols[k]).attr("stroke","#777").attr("stroke-width",.8));
 ldBreaks.forEach((s,i)=>{const yy=ly(ly.domain()[i+1]);
   g.append("line").attr("x1",500).attr("x2",507).attr("y1",yy).attr("y2",yy).attr("stroke","#777");
   T(g,513,yy+1,s,{s:12.5,a:"start",c:"#555"});});
 T(g,506,72,"r",{s:12,c:"#555"});T(g,511,67.5,"2",{s:7.5,c:"#555"});
})();

// ---------- PANEL B ----------
(function(){
 const g=svg.append("g");
 T(g,867,14,"Genotype-expression correlation",{s:TITLE});T(g,867,41,"- STARNET (AOR)",{s:TITLE});
 const y=d3.scaleLinear([-3.232,3.352],[446,72]);
 const x=d3.scalePoint().domain(bCats).range([749,981]);
 const X=d3.scaleLinear([0,1],[0,116]);
 bBoxes.forEach((b,i)=>{
   const cx=x(bCats[i]),w=X(.76);
   g.append("line").attr("x1",cx).attr("x2",cx).attr("y1",y(b.lo)).attr("y2",y(b.hi)).attr("stroke","#222").attr("stroke-width",1.4);
   g.append("rect").attr("x",cx-w/2).attr("width",w).attr("y",y(b.q3)).attr("height",y(b.q1)-y(b.q3)).attr("fill",bColors[i]).attr("stroke","#333").attr("stroke-width",1.5);
   g.append("line").attr("x1",cx-w/2).attr("x2",cx+w/2).attr("y1",y(b.med)).attr("y2",y(b.med)).attr("stroke","#333").attr("stroke-width",3.2);
 });
 [bGG,bGA,bAA].forEach((a,i)=>{
   const pts=d3.range(0,a.length,2).map(k=>[x(bCats[i])+X(a[k]),a[k+1]]);
   dots(g,pts,d=>d,y,2.1,"#000","none",0);
 });
 const ax=g.append("g").attr("transform","translate(679,0)").call(d3.axisLeft(y).tickValues([-2,0,2]).tickSize(3.5).tickPadding(4).tickFormat(d=>d<0?"-"+(-d):d).tickSizeOuter(0));
 styleAxis(ax,{c:"#111",w:1.5,t:"#555",s:17.5});
 const bx=g.append("g").attr("transform","translate(0,446)").call(d3.axisBottom(d3.scaleLinear([679,1051],[679,1051])).tickValues([]).tickSizeOuter(0));
 styleAxis(bx,{c:"#111",w:2});
 bCats.forEach((c,i)=>{
   g.append("line").attr("x1",x(c)).attr("x2",x(c)).attr("y1",446).attr("y2",450).attr("stroke","#111");
   const t=T(g,x(c),461,"",{s:19});
   c.split("").forEach(ch=>t.append("tspan").text(ch).attr("fill",ch==="G"?"#8b1a1a":"#333"));
   T(g,x(c),479,bCounts[i],{s:19,c:"#222"});
 });
 T(g,867,509,"rs9486719",{s:TITLE,c:"#222"});
 T(g,961,84,"P=1.16E-14",{s:19,c:"#222"});
 T(g,633.5,253,[["Normalized "],["FHL5","i"],[" expression"]],{s:22,r:-90,c:"#222"});
})();

// ---------- PANEL C ----------
(function(){
 const g=svg.append("g");
 T(g,1369,13,"GWAS-eQTL correlation",{s:TITLE});T(g,1369,40,"- STARNET (AOR)",{s:TITLE});
 const x=d3.scaleLinear([-.443,9.64],[1177,1541]), y=d3.scaleLinear([-.775,16.97],[444,78]);
 const R=4.7,S="#1a1a1a",W=1.6;
 dots(g,flat(cNavyColumns).concat(cNavyTop),x,y,R,"#2e318f",S,W);
 dots(g,cBlue,x,y,R,"#8bd6ef",S,W);
 dots(g,cGreen,x,y,R,"#1a7a3c",S,W);
 dots(g,cOrange,x,y,R,"#f9a61a",S,W);
 dots(g,cRed,x,y,R,"#ed1c24",S,W);
 const [lx,ly]=[x(cLead[0]),y(cLead[1])];
 g.append("path").attr("d",`M${lx} ${ly-9}L${lx+8.5} ${ly}L${lx} ${ly+9}L${lx-8.5} ${ly}Z`).attr("fill","#7a4ea3").attr("stroke","#222");
 T(g,1516,76,"rs9486719",{s:19,c:"#222"});
 const ay=g.append("g").attr("transform","translate(1177,0)").call(d3.axisLeft(y).tickValues([0,5,10,15]).tickSize(4).tickPadding(4).tickSizeOuter(0));
 styleAxis(ay,{c:"#111",w:2,t:"#555",s:17.5});
 const ax=g.append("g").attr("transform","translate(0,444)").call(d3.axisBottom(x).tickValues([0,2.5,5,7.5]).tickFormat(d3.format(".1f")).tickSize(4).tickPadding(6).tickSizeOuter(0));
 styleAxis(ax,{c:"#111",w:2,t:"#555",s:17.5});
 T(g,1365,488,[["MI GWAS -log"],["10","s"],["(p-value)"]],{s:19.2,c:"#222"});
 T(g,1125,255,[["FHL5","i"],[" eQTL -log"],["10","s"],["(p-value)"]],{s:22.9,r:-90,c:"#222"});
 const lk=["r","o","g","b","n"],ly2=d3.scaleBand().domain(lk).range([314,427]);
 const cols={r:"#ed1c24",o:"#f9a61a",g:"#1a7a3c",b:"#8bd6ef",n:"#2e318f"};
 lk.forEach(k=>g.append("rect").attr("x",1486).attr("width",23).attr("y",ly2(k)).attr("height",ly2.bandwidth()).attr("fill",cols[k]).attr("stroke","#111").attr("stroke-width",1.6));
 ldBreaks.forEach((s,i)=>T(g,1519,[322,347,370,395][i],s,{s:19,a:"start",c:"#222"}));
 T(g,1504,298,"r",{s:19,c:"#222"});T(g,1512,290,"2",{s:13,c:"#222"});
})();

// ---------- PANEL D ----------
(function(){
 const g=svg.append("g");
 T(g,340,578,"GWAS-eQTL fine-mapping",{s:TITLE});
 const x=d3.scalePoint().domain(dTraits).range([154.4,586]);
 const y=d3.scalePoint().domain(dGenes).range([699,826]);
 const r=d3.scaleSqrt([0,4],[0,10]);
 const col=d3.scaleLinear([0,.25,.5,.75,.95],["#bebebe","#a99fc4","#6f55a8","#4a2d93","#27297f"]);
 dGenes.forEach((gn,i)=>dTraits.forEach((t,j)=>{
   g.append("circle").attr("cx",x(t)).attr("cy",y(gn)).attr("r",r(dSize[i][j])).attr("fill",col(dPP4[i][j]));
 }));
 const yAx=d3.scaleLinear([680.7,845],[680.7,845]);
 g.append("g").attr("transform","translate(117.6,0)").call(d3.axisLeft(yAx).tickValues(dGenes.map(d=>y(d))).tickFormat((d,i)=>dGenes[i]).tickSize(3).tickPadding(4).tickSizeOuter(0)).call(a=>styleAxis(a,{c:"#111",w:1.8,t:"#333",s:19}));
 const xAx=d3.scaleLinear([117.6,623],[117.6,623]);
 const ax=g.append("g").attr("transform","translate(0,845)").call(d3.axisBottom(xAx).tickValues(dTraits.map(d=>x(d))).tickFormat("").tickSize(4).tickSizeOuter(0));
 styleAxis(ax,{c:"#111",w:1.8});
 dTraits.forEach(t=>{const px=x(t)+6,py=858;
   g.append("text").attr("x",px).attr("y",py).attr("text-anchor","end").attr("dominant-baseline","central").attr("transform",`rotate(-45 ${px} ${py})`).attr("font-size",19.5).attr("fill","#333").text(t);});
 const grad=svg.append("defs").append("linearGradient").attr("id","ppg");
 const lg=d3.scaleLinear([.003,.95],[190,315]);
 d3.range(0,1.001,.1).forEach(f=>grad.append("stop").attr("offset",f).attr("stop-color",col(.003+f*.947)));
 g.append("rect").attr("x",190).attr("y",627).attr("width",125).attr("height",18.5).attr("fill","url(#ppg)");
 [.25,.5,.75].forEach(v=>{g.append("line").attr("x1",lg(v)).attr("x2",lg(v)).attr("y1",627).attr("y2",631).attr("stroke","#fff");g.append("line").attr("x1",lg(v)).attr("x2",lg(v)).attr("y1",641.5).attr("y2",645.5).attr("stroke","#fff");T(g,lg(v)+(v===.25?-4:v===.75?2:0),655,v.toFixed(2),{s:17,c:"#222"});});
 T(g,140,638,"coloc-PP4",{s:18,c:"#222"});
 T(g,381,637,[["-log10(P"],["SMR","s"],[")"]],{s:17.5,c:"#222"});
 [1,2,3,4].forEach((v,i)=>{g.append("circle").attr("cx",[445,485,532,581][i]).attr("cy",635).attr("r",r(v)+.8).attr("fill","#000");T(g,[463,507,554,604][i],637,String(v),{s:18,c:"#222"});});
})();

// ---------- PANEL E ----------
(function(){
 const g=svg.append("g");
 T(g,1139,578,"Bulk tissue expression - GTEx",{s:TITLE});
 const x=d3.scaleBand().domain(eTissues).range([809.9,1555.8]);
 const y=d3.scaleBand().domain(eGenes).range([646.7,803.5]);
 const col=d3.scaleLinear([0,466],["#ffffff","#2f3192"]);
 eGenes.forEach(gn=>eTPM[gn].forEach((v,j)=>{
   if(v>0)g.append("rect").attr("x",x(eTissues[j])).attr("y",y(gn)).attr("width",x.bandwidth()).attr("height",y.bandwidth()).attr("fill",col(v));
 }));
 const yAx=g.append("g").attr("transform","translate(808,0)").call(d3.axisLeft(d3.scaleLinear([644,806],[644,806])).tickValues(eGenes.map(d=>y(d)+y.bandwidth()/2)).tickFormat((d,i)=>eGenes[i]).tickSize(3.5).tickPadding(5).tickSizeOuter(0));
 styleAxis(yAx,{c:"#111",w:1.6,t:"#333",s:17});
 const xl=g.append("g").attr("transform","translate(0,806)").call(d3.axisBottom(d3.scaleLinear([808,1558],[808,1558])).tickValues(eTissues.map(d=>x(d)+x.bandwidth()/2)).tickFormat("").tickSize(3.5).tickSizeOuter(0));
 styleAxis(xl,{c:"#111",w:1.6});
 eTissues.forEach(t=>{const px=x(t)+x.bandwidth()/2,py=815;
   g.append("text").attr("x",px).attr("y",py).attr("text-anchor","end").attr("dominant-baseline","central").attr("transform",`rotate(-90 ${px} ${py})`).attr("font-size",17.2).attr("fill","#333").text(t);});
 const grad=svg.select("defs").append("linearGradient").attr("id","tpm");
 grad.append("stop").attr("offset",0).attr("stop-color","#fff");grad.append("stop").attr("offset",1).attr("stop-color","#2f3192");
 g.append("rect").attr("x",1430.5).attr("y",575).attr("width",102.5).attr("height",21).attr("fill","url(#tpm)");
 const lx=d3.scaleLinear([0,466],[1430.5,1533]);
 [0,200,400].forEach(v=>T(g,lx(v),607,String(v),{s:18.5,c:"#222"}));
 T(g,1375,587,"TPM",{s:18.5,c:"#222"});
})();

// ---------- PANEL F ----------
(function(){
 const g=svg.append("g");
 const kb=d3.scaleLinear([0,120],[156.3,688.7]);
 g.append("rect").attr("x",398).attr("width",18).attr("y",1147).attr("height",561).attr("fill","#efefef");
 g.append("path").attr("d","M398 1708L416 1708L564 1785L239 1785Z").attr("fill","#efefef");
 g.append("rect").attr("x",240.5).attr("y",1786).attr("width",322.5).attr("height",289).attr("fill","#fff").attr("stroke","#efefef").attr("stroke-width",3.5);
 T(g,223,1061,"snATAC profiles - coronary artery",{s:TITLE,a:"start"});
 T(g,223,1096,"(chr6: 96,530,000-96,650,000)",{s:TITLE,a:"start"});
 T(g,406,1133,"rs10872018",{s:21.5});
 T(g,7,1157,"Credible SNPs",{s:20.2,a:"start"});
 fSnps.forEach(s=>g.append("line").attr("x1",kb(s)).attr("x2",kb(s)).attr("y1",1148).attr("y2",1180).attr("stroke","#111").attr("stroke-width",1.5));
 const NV="#1b1b6f";
 T(g,149,1196,"UFL1",{s:21,a:"end",c:NV});T(g,316,1229,"FHL5",{s:21,a:"end",c:NV});
 function gene(y0,h,start,end,exons,chev,blockEnd,bh){
   g.append("line").attr("x1",kb(start)).attr("x2",kb(end)).attr("y1",y0).attr("y2",y0).attr("stroke",NV).attr("stroke-width",1.6);
   exons.forEach(e=>g.append("line").attr("x1",kb(e)).attr("x2",kb(e)).attr("y1",y0-h).attr("y2",y0+h).attr("stroke",NV).attr("stroke-width",1.6));
   chev.forEach(c=>g.append("path").attr("d",`M${kb(c)-3} ${y0-6}L${kb(c)+3.5} ${y0}L${kb(c)-3} ${y0+6}`).attr("stroke",NV).attr("fill","none").attr("stroke-width",1.5));
   g.append("rect").attr("x",kb(end)).attr("width",kb(blockEnd)-kb(end)).attr("y",y0-bh).attr("height",2*bh).attr("fill","#26277a");
 }
 gene(1196,15,.7,27.7,fUfl1Exons,fUfl1Chev,29.5,9);
 gene(1228,15,38.8,99.4,fFhl5Exons,fFhl5Chev,102.5,9);
 const bases=[1293,1342,1393,1442,1492,1542,1591.5,1641.5];
 const labY=[1273,1322,1372,1420,1470,1518.5,1567,1621];
 const numY=[1261,1306,1358,1406,1454,1506,1555,1606];
 const h=d3.scaleLinear([0,1.5],[0,42]);
 fTrackNames.forEach((n,i)=>{
   const vals=fTrackValues[i],b=bases[i];
   const area=d3.area().x((d,k)=>kb(k)).y0(b).y1(d=>b-h(d)).curve(d3.curveStepAfter);
   g.append("path").attr("d",area(vals)).attr("fill",fTrackColors[i]);
   g.append("line").attr("x1",kb(0)).attr("x2",kb(120)).attr("y1",b).attr("y2",b).attr("stroke",fTrackColors[i]).attr("stroke-width",1.6);
   T(g,149,labY[i],n,{s:21.5,a:"end",c:fTrackColors[i]});
   T(g,154,numY[i],"1.5",{s:15.5,a:"start",c:"#222"});
 });
 fGrayPeaks.forEach(p=>g.append("rect").attr("x",kb(p[0])).attr("width",kb(p[1])-kb(p[0])).attr("y",1643).attr("height",4).attr("fill","#ddd"));
 fBlackPeaks.forEach(p=>g.append("rect").attr("x",kb(p[0])).attr("width",kb(p[1])-kb(p[0])).attr("y",1643).attr("height",4).attr("fill","#111"));
 fPinkSpots.forEach(p=>g.append("rect").attr("x",kb(p)-2).attr("width",4).attr("y",1643).attr("height",4).attr("fill","#f3b8d0"));
 fLinks.forEach(([a,b,c,ry])=>{const xa=kb(a),xb=kb(b);
   g.append("path").attr("d",`M${xa} 1647A${(xb-xa)/2} ${ry} 0 0 0 ${xb} 1647`).attr("fill","none").attr("stroke",c).attr("stroke-width",c==="#111"?1.5:1.4);});
 T(g,151,1673,"Peak2gene",{s:21.5,a:"end"});
 g.append("path").attr("d","M362 1807V1827M362 1817H431.5M431.5 1807V1827").attr("stroke","#111").attr("stroke-width",1.6).attr("fill","none");
 T(g,334,1818,"2kb",{s:19});T(g,383,1847,"rs10872018",{s:19.5});T(g,380,1879,"rs108 gRNA",{s:19.5,a:"end"});
 g.append("line").attr("x1",395).attr("x2",395).attr("y1",1859.5).attr("y2",1900).attr("stroke","#6b4a9e").attr("stroke-width",3);
 function zoomTrack(v,base,H,c){const X=d3.scaleLinear([0,v.length-1],[241,561]),Y=d3.scaleLinear([0,1],[base,base-H]);
   g.append("path").attr("d",d3.area().x((d,i)=>X(i)).y0(base).y1(d=>Y(d)).curve(d3.curveLinear)(v)).attr("fill",c);}
 zoomTrack(zoomBulk,1984,84,"#1f5f8b");zoomTrack(zoomSMC,2066,83,"#96a3d6");
 T(g,228,1923,"Coronay artery",{s:21,a:"end",c:"#1f5f8b"});T(g,228,1948,"Bulk ATAC-seq",{s:21,a:"end",c:"#1f5f8b"});
 T(g,228,2012,"SMC",{s:21,a:"end",c:"#96a3d6"});T(g,228,2038,"snATAC-seq",{s:21,a:"end",c:"#96a3d6"});
})();

// ---------- PANEL G ----------
(function(){
 const g=svg.append("g");
 T(g,938,1068,"Predicted TFBS near rs10872018",{s:TITLE});
 const LC={A:"#0f9d48",C:"#1f5fa9",G:"#f7a51c",T:"#d8233c"};
 gLogos.forEach(L=>{
   const y=d3.scaleLinear([0,2],[L.base,L.top]);
   const x=d3.scaleBand().domain(d3.range(L.pos.length)).range(L.span);
   g.append("g").attr("transform","translate(881,0)").call(d3.axisLeft(y).tickValues([0,2]).tickFormat(d3.format(".1f")).tickSize(2).tickPadding(2).tickSizeOuter(0)).call(a=>styleAxis(a,{c:"#333",w:1,t:"#222",s:14}));
   L.pos.forEach((p,i)=>{let acc=0;
     p.split(" ").forEach(tok=>{const ch=tok[0],v=+tok.slice(1);
       const t=g.append("text").text(ch).attr("font-size",20).attr("font-weight","bold").attr("fill",LC[ch]);
       const w=t.node().getComputedTextLength();
       const sx=x.bandwidth()/w,sy=(y(acc)-y(acc+v))/14.3;
       t.attr("transform",`translate(${x(i)},${y(acc)}) scale(${sx},${sy})`);
       acc+=v;});
   });
 });
 const F=22.3;
 T(g,804,1172,gNames[0],{s:F});T(g,776,1263,gNames[1],{s:F,a:"start"});T(g,776,1290,gNames[0],{s:F,a:"start"});
 T(g,803,1391,gNames[2],{s:F});T(g,806.5,1508,gNames[3],{s:F});
 T(g,1063,1162,"(0 and",{s:F,a:"start"});T(g,1063,1188,"+50 bp)",{s:F,a:"start"});
 T(g,1058,1276,"(+12 bp)",{s:F,a:"start"});T(g,1058,1398,"(+43 bp)",{s:F,a:"start"});T(g,1063,1508,"(+117 bp)",{s:F,a:"start"});
})();

// ---------- PANEL H ----------
(function(){
 const g=svg.append("g");
 T(g,1258,1068,"Enhancer reporter assay - A7r5",{s:21.9,a:"start"});
 const y=d3.scaleLinear([-3.27,66.7],[1488,1210]);
 const gx=d3.scalePoint().domain(hGroups).range([1340,1513.5]);
 const offs=[[-19.5,19.5],[-19,20],[-18.5,20]];
 const barW=31;
 hGroups.forEach((gr,i)=>hSeries.forEach((s,j)=>{
   const cx=gx(gr)+offs[i][j];
   g.append("rect").attr("x",cx-barW/2).attr("width",barW).attr("y",y(hMeans[i][j])).attr("height",y(0)-y(hMeans[i][j])).attr("fill",j?ORANGE:GREEN).attr("stroke","#111").attr("stroke-width",2);
   hPoints[i][j].forEach(v=>g.append("circle").attr("cx",cx).attr("cy",y(v)).attr("r",3.3).attr("fill","#000"));
 }));
 const ay=g.append("g").attr("transform","translate(1287.6,0)").call(d3.axisLeft(y).tickValues([0,20,40,60]).tickSize(4).tickPadding(5).tickSizeOuter(0));
 styleAxis(ay,{c:"#111",w:2,t:"#333",s:19});
 const ax=g.append("g").attr("transform","translate(0,1488)").call(d3.axisBottom(d3.scaleLinear([1287.6,1566],[1287.6,1566])).tickValues(hGroups.map(d=>gx(d))).tickFormat("").tickSize(4).tickSizeOuter(0));
 styleAxis(ax,{c:"#111",w:2});
 hGroups.forEach(t=>{const px=gx(t),py=1500;
   g.append("text").attr("x",px).attr("y",py).attr("text-anchor","end").attr("dominant-baseline","central").attr("transform",`rotate(-51 ${px} ${py})`).attr("font-size",t==="pMCS-Luc"?22:21).attr("fill","#333").attr("font-style","italic").text(t);});
 T(g,1205.5,1351,"Relative luciferase activity",{s:22.5,r:-90,c:"#222"});
 T(g,1232.5,1351,"(Fold change)",{s:22.5,r:-90,c:"#222"});
 const br=[[1399.5,1495,1126,1140,1450,1114,"P=2.2E-3","#111"],[1446,1541.6,1159.4,1173.6,1499.5,1151.5,"P=2.2E-3","#111"],[1387.5,1448.6,1201,1215,1417,1190,"P=7.0E-4","#333"],[1491,1552.4,1201,1215,1523,1190,"P=1.6E-6","#111"],[1310,1371,1397,1410.5,1341,1387,"ns","#555"]];
 br.forEach(([a,b,t,l,tx,ty,s,c])=>{g.append("path").attr("d",`M${a} ${l}V${t}H${b}V${l}`).attr("fill","none").attr("stroke",c).attr("stroke-width",1.6);T(g,tx,ty,s,{s:15.5,c:"#222"});});
 hSeries.forEach((s,i)=>{g.append("rect").attr("x",1269).attr("y",1135+i*21.6).attr("width",21).attr("height",21.6).attr("fill",i?ORANGE:GREEN).attr("stroke","#111").attr("stroke-width",2);
   T(g,1294,i?1166.5:1143.6,s,{s:16.5,a:"start",c:"#222"});});
})();

// ---------- PANEL I ----------
(function(){
 const g=svg.append("g");
 T(g,1007,1628,"rs108 CRE CRISPRa - HCASMC-hTERT",{s:TITLE});
 const y=d3.scaleLinear([-.393,7.87],[2071,1692.4]);
 const x=d3.scalePoint().domain(iCats).range([934,1057]);
 iCats.forEach((c,i)=>{
   const cx=x(c);
   g.append("rect").attr("x",cx-43.5).attr("width",87).attr("y",y(iMeans[i])).attr("height",y(0)-y(iMeans[i])).attr("fill",i?ORANGE:GREEN).attr("stroke","#222").attr("stroke-width",1.6);
   const [lo,hi]=iErr[i];
   g.append("path").attr("d",`M${cx-6} ${y(hi)}H${cx+6}M${cx} ${y(hi)}V${y(lo)}M${cx-6} ${y(lo)}H${cx+6}`).attr("stroke","#111").attr("stroke-width",1.6).attr("fill","none");
   iPoints[i].forEach(v=>g.append("circle").attr("cx",cx).attr("cy",y(v)).attr("r",3.6).attr("fill","#000"));
 });
 const ay=g.append("g").attr("transform","translate(861,0)").call(d3.axisLeft(y).tickValues([0,2,4,6]).tickSize(3).tickPadding(4).tickSizeOuter(0));
 styleAxis(ay,{c:"#111",w:1.6,t:"#444",s:21});
 const ax=g.append("g").attr("transform","translate(0,2071)").call(d3.axisBottom(d3.scaleLinear([861,1131],[861,1131])).tickValues(iCats.map(d=>x(d))).tickFormat("").tickSize(3).tickSizeOuter(0));
 styleAxis(ax,{c:"#111",w:1.6});
 iCats.forEach(c=>T(g,x(c),2087,c,{s:22.4,c:"#222"}));
 T(g,784,1884,[["Relative "],["FHL5","i"],[" expression"]],{s:22,r:-90,c:"#222"});
 T(g,812.7,1884,"(Fold change)",{s:22,r:-90,c:"#222"});
 g.append("path").attr("d","M933.7 1702V1690.7H1055V1702").attr("fill","none").attr("stroke","#222").attr("stroke-width",1.5);
 T(g,989,1672,"P=2.7E-3",{s:19,c:"#222"});
})();
</script></body></html>
